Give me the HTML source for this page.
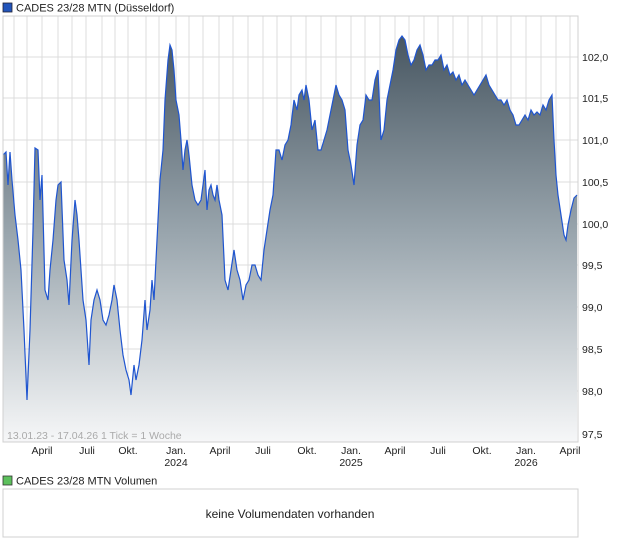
<!DOCTYPE html>
<html><head><meta charset="utf-8"><style>
body{margin:0;background:#fff;width:620px;height:546px;overflow:hidden;font-family:"Liberation Sans",sans-serif}
</style></head><body>
<svg width="620" height="546" xmlns="http://www.w3.org/2000/svg" font-family="Liberation Sans, sans-serif">
<defs>
<linearGradient id="g" x1="0" y1="30" x2="0" y2="442" gradientUnits="userSpaceOnUse">
<stop offset="0" stop-color="#45545f"/><stop offset="0.5" stop-color="#9aa6ae"/><stop offset="1" stop-color="#f6f7f8"/>
</linearGradient>
</defs>
<rect x="3" y="3" width="9" height="9" fill="#2255bb" stroke="#223" stroke-width="0.8"/>
<text x="16" y="11.5" font-size="11" fill="#222">CADES 23/28 MTN (Düsseldorf)</text>
<g stroke="#dcdcdc" stroke-width="1">
<line x1="3" y1="57" x2="578" y2="57"/><line x1="3" y1="98" x2="578" y2="98"/><line x1="3" y1="140" x2="578" y2="140"/><line x1="3" y1="182" x2="578" y2="182"/><line x1="3" y1="224" x2="578" y2="224"/><line x1="3" y1="265" x2="578" y2="265"/><line x1="3" y1="307" x2="578" y2="307"/><line x1="3" y1="349" x2="578" y2="349"/><line x1="3" y1="391" x2="578" y2="391"/>
<line x1="14" y1="16" x2="14" y2="442"/><line x1="27" y1="16" x2="27" y2="442"/><line x1="42" y1="16" x2="42" y2="442"/><line x1="58" y1="16" x2="58" y2="442"/><line x1="72" y1="16" x2="72" y2="442"/><line x1="86" y1="16" x2="86" y2="442"/><line x1="102" y1="16" x2="102" y2="442"/><line x1="115" y1="16" x2="115" y2="442"/><line x1="128" y1="16" x2="128" y2="442"/><line x1="146" y1="16" x2="146" y2="442"/><line x1="159" y1="16" x2="159" y2="442"/><line x1="176" y1="16" x2="176" y2="442"/><line x1="189" y1="16" x2="189" y2="442"/><line x1="203" y1="16" x2="203" y2="442"/><line x1="219" y1="16" x2="219" y2="442"/><line x1="233" y1="16" x2="233" y2="442"/><line x1="248" y1="16" x2="248" y2="442"/><line x1="263" y1="16" x2="263" y2="442"/><line x1="277" y1="16" x2="277" y2="442"/><line x1="291" y1="16" x2="291" y2="442"/><line x1="306" y1="16" x2="306" y2="442"/><line x1="321" y1="16" x2="321" y2="442"/><line x1="336" y1="16" x2="336" y2="442"/><line x1="351" y1="16" x2="351" y2="442"/><line x1="365" y1="16" x2="365" y2="442"/><line x1="380" y1="16" x2="380" y2="442"/><line x1="395" y1="16" x2="395" y2="442"/><line x1="409" y1="16" x2="409" y2="442"/><line x1="424" y1="16" x2="424" y2="442"/><line x1="438" y1="16" x2="438" y2="442"/><line x1="453" y1="16" x2="453" y2="442"/><line x1="468" y1="16" x2="468" y2="442"/><line x1="482" y1="16" x2="482" y2="442"/><line x1="497" y1="16" x2="497" y2="442"/><line x1="511" y1="16" x2="511" y2="442"/><line x1="526" y1="16" x2="526" y2="442"/><line x1="541" y1="16" x2="541" y2="442"/><line x1="556" y1="16" x2="556" y2="442"/><line x1="570" y1="16" x2="570" y2="442"/>
</g>
<polygon fill="url(#g)" points="3,442 3,155 6,152 8,185 10,152 12,180 15,215 18,240 21,270 24,330 27,400 30,330 33,230 35,148 38,150 40,200 42,175 45,290 48,300 50,270 53,240 56,200 58,185 61,182 64,260 67,280 69,305 72,240 75,200 77,215 79,240 81,270 83,300 86,320 89,365 91,320 94,300 97,290 100,300 103,320 106,325 109,315 112,300 114,285 117,300 120,330 123,355 126,370 129,380 131,395 134,365 136,380 139,365 142,340 145,300 147,330 150,310 152,280 154,300 157,240 160,180 163,150 165,100 168,60 170,45 172,50 174,70 176,100 179,115 181,140 183,170 185,150 187,140 189,155 192,185 195,200 198,205 201,200 203,185 205,170 207,210 209,190 211,185 213,195 215,200 217,185 219,200 222,215 225,280 228,290 231,270 234,250 237,270 240,280 243,300 246,285 249,280 252,265 255,265 258,275 261,280 264,250 267,230 270,210 273,195 276,150 279,150 282,160 285,145 288,140 291,125 294,100 297,110 299,95 302,90 304,100 306,85 309,100 312,130 315,120 318,150 321,150 324,140 327,130 330,115 333,100 336,85 339,95 342,100 345,110 348,150 351,165 354,185 357,145 360,125 363,120 366,95 369,100 372,100 375,80 378,70 381,140 384,130 387,100 390,85 393,70 396,50 399,40 402,36 405,40 408,55 411,65 414,60 417,50 420,45 423,55 426,70 429,65 432,65 435,60 438,60 441,55 444,70 447,65 450,75 453,72 456,80 459,75 462,85 465,80 468,85 471,90 474,95 477,90 480,85 483,80 486,75 489,85 492,90 495,95 498,100 501,100 504,105 507,100 510,110 513,115 516,125 519,125 522,120 525,115 528,120 531,110 534,115 537,112 540,115 543,105 546,110 549,100 552,95 554,140 556,175 558,195 561,215 564,235 566,240 568,225 571,210 574,198 577,195 577,442"/>
<polyline fill="none" stroke="#1f55d0" stroke-width="1.2" points="3,155 6,152 8,185 10,152 12,180 15,215 18,240 21,270 24,330 27,400 30,330 33,230 35,148 38,150 40,200 42,175 45,290 48,300 50,270 53,240 56,200 58,185 61,182 64,260 67,280 69,305 72,240 75,200 77,215 79,240 81,270 83,300 86,320 89,365 91,320 94,300 97,290 100,300 103,320 106,325 109,315 112,300 114,285 117,300 120,330 123,355 126,370 129,380 131,395 134,365 136,380 139,365 142,340 145,300 147,330 150,310 152,280 154,300 157,240 160,180 163,150 165,100 168,60 170,45 172,50 174,70 176,100 179,115 181,140 183,170 185,150 187,140 189,155 192,185 195,200 198,205 201,200 203,185 205,170 207,210 209,190 211,185 213,195 215,200 217,185 219,200 222,215 225,280 228,290 231,270 234,250 237,270 240,280 243,300 246,285 249,280 252,265 255,265 258,275 261,280 264,250 267,230 270,210 273,195 276,150 279,150 282,160 285,145 288,140 291,125 294,100 297,110 299,95 302,90 304,100 306,85 309,100 312,130 315,120 318,150 321,150 324,140 327,130 330,115 333,100 336,85 339,95 342,100 345,110 348,150 351,165 354,185 357,145 360,125 363,120 366,95 369,100 372,100 375,80 378,70 381,140 384,130 387,100 390,85 393,70 396,50 399,40 402,36 405,40 408,55 411,65 414,60 417,50 420,45 423,55 426,70 429,65 432,65 435,60 438,60 441,55 444,70 447,65 450,75 453,72 456,80 459,75 462,85 465,80 468,85 471,90 474,95 477,90 480,85 483,80 486,75 489,85 492,90 495,95 498,100 501,100 504,105 507,100 510,110 513,115 516,125 519,125 522,120 525,115 528,120 531,110 534,115 537,112 540,115 543,105 546,110 549,100 552,95 554,140 556,175 558,195 561,215 564,235 566,240 568,225 571,210 574,198 577,195"/>
<rect x="3" y="16" width="575" height="426" fill="none" stroke="#d0d0d0"/>
<text x="7" y="439" font-size="10.5" fill="#aaa">13.01.23 - 17.04.26   1 Tick = 1 Woche</text>
<g font-size="10.5" fill="#222">
<text x="582" y="61">102,0</text><text x="582" y="102">101,5</text><text x="582" y="144">101,0</text><text x="582" y="186">100,5</text><text x="582" y="228">100,0</text><text x="582" y="269">99,5</text><text x="582" y="311">99,0</text><text x="582" y="353">98,5</text><text x="582" y="395">98,0</text><text x="582" y="438">97,5</text>
</g>
<g font-size="10.5" fill="#222" text-anchor="middle">
<text x="42" y="454">April</text><text x="87" y="454">Juli</text><text x="128" y="454">Okt.</text><text x="176" y="454">Jan.</text><text x="176" y="466">2024</text><text x="220" y="454">April</text><text x="263" y="454">Juli</text><text x="307" y="454">Okt.</text><text x="351" y="454">Jan.</text><text x="351" y="466">2025</text><text x="395" y="454">April</text><text x="438" y="454">Juli</text><text x="482" y="454">Okt.</text><text x="526" y="454">Jan.</text><text x="526" y="466">2026</text><text x="570" y="454">April</text>
</g>
<rect x="3" y="476" width="9" height="9" fill="#5cc05c" stroke="#333" stroke-width="0.8"/>
<text x="16" y="484.5" font-size="11" fill="#222">CADES 23/28 MTN Volumen</text>
<rect x="3" y="489" width="575" height="48" fill="#fff" stroke="#d0d0d0"/>
<text x="290" y="518" font-size="12" fill="#222" text-anchor="middle">keine Volumendaten vorhanden</text>
</svg>
</body></html>
